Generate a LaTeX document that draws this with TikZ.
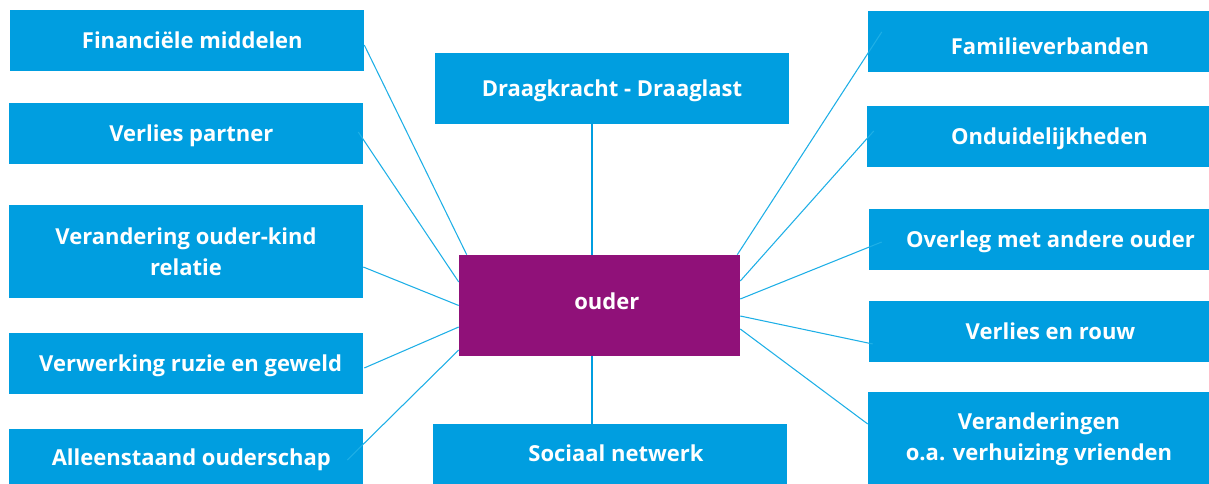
\documentclass[tikz,border=0pt]{standalone}
\usepackage{fontspec}
\setmainfont{Open Sans}
\usetikzlibrary{calc}
\definecolor{boxblue}{RGB}{0,158,224}
\definecolor{lineblue}{RGB}{30,175,230}
\definecolor{ouderpurple}{RGB}{144,17,121}
\tikzset{
  box/.style={rectangle, fill=boxblue, text=white, inner sep=0pt, font=\fontsize{16.5pt}{20pt}\selectfont\bfseries, text height=11.8pt, text depth=0pt},
  boxtwo/.style={rectangle, fill=boxblue, text=white, inner sep=0pt, align=center, font=\fontsize{16.5pt}{23.5pt}\selectfont\bfseries},
  thin link/.style={draw=lineblue, line width=0.8pt},
  thick link/.style={draw=boxblue, line width=1.6pt}
}
\begin{document}
\begin{tikzpicture}[x=0.75pt,y=-0.75pt]
\useasboundingbox (0,0) rectangle (1209,484);
% left column
\node[box, minimum width=354*0.75pt, minimum height=61*0.75pt] (fin) at (187,40.5) {\hspace*{8pt}Financiële middelen};
\node[box, minimum width=354*0.75pt, minimum height=61*0.75pt] (vp) at (186,133.5) {\hspace*{8pt}Verlies partner};
\node[boxtwo, minimum width=354*0.75pt, minimum height=93*0.75pt] (vok) at (186,251.5) {Verandering ouder-kind\\relatie};
\node[box, minimum width=354*0.75pt, minimum height=61*0.75pt] (vrg) at (186,363.5) {\hspace*{7pt}Verwerking ruzie en geweld};
\node[box, minimum width=354*0.75pt, minimum height=58*0.75pt] (alo) at (186,458) {\hspace*{8pt}Alleenstaand ouderschap};
% middle column
\node[box, minimum width=354*0.75pt, minimum height=71*0.75pt] (dd) at (612,88.5) {Draagkracht - Draaglast};
\node[box, fill=ouderpurple, minimum width=281*0.75pt, minimum height=101*0.75pt, text depth=6pt] (ouder) at (599.5,305.5) {\hspace*{11pt}ouder};
\node[box, minimum width=354*0.75pt, minimum height=60*0.75pt] (soc) at (610,454) {\hspace*{9pt}Sociaal netwerk};
% right column
\node[box, minimum width=364*0.75pt, minimum height=61*0.75pt, text height=19.5pt] (fam) at (1050,41.5) {Familieverbanden};
\node[box, minimum width=365*0.75pt, minimum height=61*0.75pt] (ond) at (1049.5,136.5) {Onduidelijkheden};
\node[box, minimum width=363*0.75pt, minimum height=61*0.75pt] (ovl) at (1050.5,239.5) {Overleg met andere ouder};
\node[box, minimum width=363*0.75pt, minimum height=61*0.75pt] (vr) at (1050.5,331.5) {Verlies en rouw};
\node[boxtwo, minimum width=342*0.75pt, minimum height=94*0.75pt] (ver) at (1039,439) {Veranderingen\\o.a. verhuizing vrienden};
% connectors
\draw[thin link] ([shift={(0,4.5)}]fin.east) -- ([shift={(8,0)}]ouder.north west);
\draw[thin link] ([shift={(-5,-1.5)}]vp.east) -- ([shift={(0,-23.5)}]ouder.west);
\draw[thin link] ([shift={(0,15.5)}]vok.east) -- (ouder.west);
\draw[thin link] ([shift={(1,4.5)}]vrg.east) -- ([shift={(0,21.5)}]ouder.west);
\draw[thin link] ([shift={(-16,2)}]alo.east) -- ([shift={(0,44.5)}]ouder.west);
\draw[thin link] ([shift={(14,-9.5)}]fam.west) -- ([shift={(-3,0)}]ouder.north east);
\draw[thin link] ([shift={(7,-5.5)}]ond.west) -- ([shift={(0,-24.5)}]ouder.east);
\draw[thin link] ([shift={(13,2.5)}]ovl.west) -- ([shift={(0,-6.5)}]ouder.east);
\draw[thin link] ([shift={(4,12.5)}]vr.west) -- ([shift={(0,10.5)}]ouder.east);
\draw[thin link] ([shift={(0,-15)}]ver.west) -- ([shift={(0,23.5)}]ouder.east);
\draw[thick link] ([shift={(-20,0)}]dd.south) -- ([shift={(-7.5,0)}]ouder.north);
\draw[thick link] ([shift={(-7.5,0)}]ouder.south) -- ([shift={(-18,0)}]soc.north);
\end{tikzpicture}
\end{document}
